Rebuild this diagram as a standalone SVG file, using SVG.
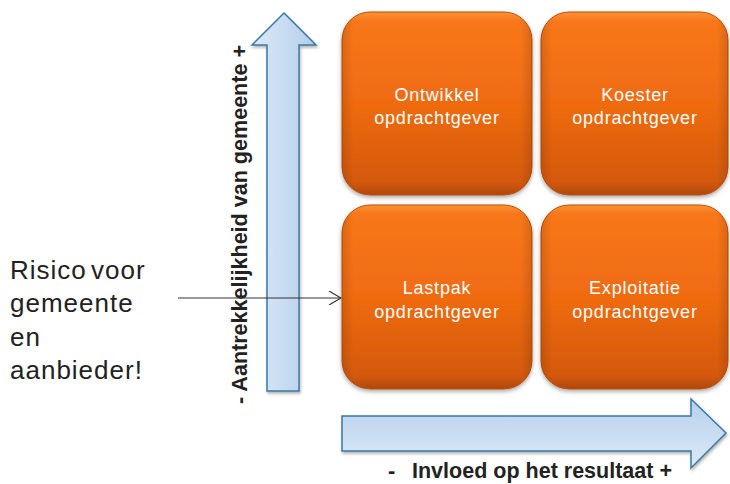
<svg xmlns="http://www.w3.org/2000/svg" width="730" height="484" viewBox="0 0 730 484">
<style>
.box{fill:url(#og);stroke:#B9500B;stroke-width:1;filter:url(#sh)}
.hl{fill:url(#hl)}
.bt{font-family:"Liberation Sans",Arial,sans-serif;font-size:18px;fill:#fff;text-anchor:middle;letter-spacing:0.8px}
.lbl{font-family:"Liberation Sans",Arial,sans-serif;font-size:22px;font-weight:bold;fill:#222}
.risk{font-family:"Liberation Sans",Arial,sans-serif;font-size:26px;fill:#222;letter-spacing:1px}
.arr{stroke:#3A78A4;stroke-width:1.5;stroke-linejoin:miter;filter:url(#sh2)}
.con{stroke:#333;stroke-width:1.2;fill:none}
</style>
<defs>
<linearGradient id="og" x1="0" y1="0" x2="0" y2="1">
<stop offset="0" stop-color="#FB9236"/>
<stop offset="0.05" stop-color="#F8771A"/>
<stop offset="0.5" stop-color="#EF6B11"/>
<stop offset="0.93" stop-color="#D4590C"/>
<stop offset="1" stop-color="#AF4708"/>
</linearGradient>
<linearGradient id="hl" x1="0" y1="0" x2="1" y2="0">
<stop offset="0" stop-color="#000" stop-opacity="0.12"/>
<stop offset="0.06" stop-color="#000" stop-opacity="0"/>
<stop offset="0.94" stop-color="#000" stop-opacity="0"/>
<stop offset="1" stop-color="#000" stop-opacity="0.12"/>
</linearGradient>
<linearGradient id="bv" x1="0" y1="0" x2="1" y2="0">
<stop offset="0" stop-color="#DCEAF7"/>
<stop offset="1" stop-color="#B3CEEB"/>
</linearGradient>
<linearGradient id="bh" x1="0" y1="0" x2="0" y2="1">
<stop offset="0" stop-color="#B6D0EC"/>
<stop offset="1" stop-color="#DCEAF7"/>
</linearGradient>
<filter id="sh" x="-10%" y="-10%" width="120%" height="125%">
<feDropShadow dx="0" dy="2" stdDeviation="2" flood-color="#000" flood-opacity="0.35"/>
</filter>
<filter id="sh2" x="-10%" y="-10%" width="130%" height="130%">
<feDropShadow dx="1" dy="2" stdDeviation="1.5" flood-color="#000" flood-opacity="0.3"/>
</filter>
<marker id="open" viewBox="0 0 14 14" refX="13" refY="7" markerWidth="14" markerHeight="14" markerUnits="userSpaceOnUse" orient="auto">
<path d="M1,0 L13,7 L1,14" fill="none" stroke="#333" stroke-width="1.2"/>
</marker>
</defs>

<g id="arrow-vertical">
<polygon class="arr" fill="url(#bv)" points="284,13 316,45 299,45 299,391 267,391 267,45 252,45"/>
<text class="lbl" transform="translate(247,224.5) rotate(-90)" text-anchor="middle" textLength="359" lengthAdjust="spacingAndGlyphs">- Aantrekkelijkheid van gemeente +</text>
</g>

<g id="arrow-horizontal">
<polygon class="arr" fill="url(#bh)" points="342,416 691,416 691,399 726,433 691,468 691,451 342,451"/>
<text class="lbl" x="388" y="478">-</text>
<text class="lbl" x="412" y="478" textLength="260" lengthAdjust="spacingAndGlyphs">Invloed op het resultaat +</text>
</g>

<g id="box-ontwikkel">
<rect class="box" x="342" y="12" width="190" height="183" rx="28"/>
<rect class="hl" x="342" y="12" width="190" height="183" rx="28"/>
<text class="bt" x="437" y="101">Ontwikkel</text>
<text class="bt" x="437" y="124">opdrachtgever</text>
</g>

<g id="box-koester">
<rect class="box" x="541" y="12" width="187" height="183" rx="28"/>
<rect class="hl" x="541" y="12" width="187" height="183" rx="28"/>
<text class="bt" x="635" y="101">Koester</text>
<text class="bt" x="635" y="124">opdrachtgever</text>
</g>

<g id="box-lastpak">
<rect class="box" x="342" y="205" width="190" height="184" rx="28"/>
<rect class="hl" x="342" y="205" width="190" height="184" rx="28"/>
<text class="bt" x="437" y="294">Lastpak</text>
<text class="bt" x="437" y="318">opdrachtgever</text>
</g>

<g id="box-exploitatie">
<rect class="box" x="541" y="205" width="187" height="184" rx="28"/>
<rect class="hl" x="541" y="205" width="187" height="184" rx="28"/>
<text class="bt" x="635" y="294">Exploitatie</text>
<text class="bt" x="635" y="318">opdrachtgever</text>
</g>

<g id="risico">
<text class="risk" x="10" y="279" word-spacing="-4">Risico voor</text>
<text class="risk" x="10" y="312">gemeente</text>
<text class="risk" x="10" y="346">en</text>
<text class="risk" x="10" y="379">aanbieder!</text>
</g>

<g id="connectors">
<line class="con" x1="178" y1="298" x2="341" y2="298" marker-end="url(#open)"/>
</g>
</svg>
